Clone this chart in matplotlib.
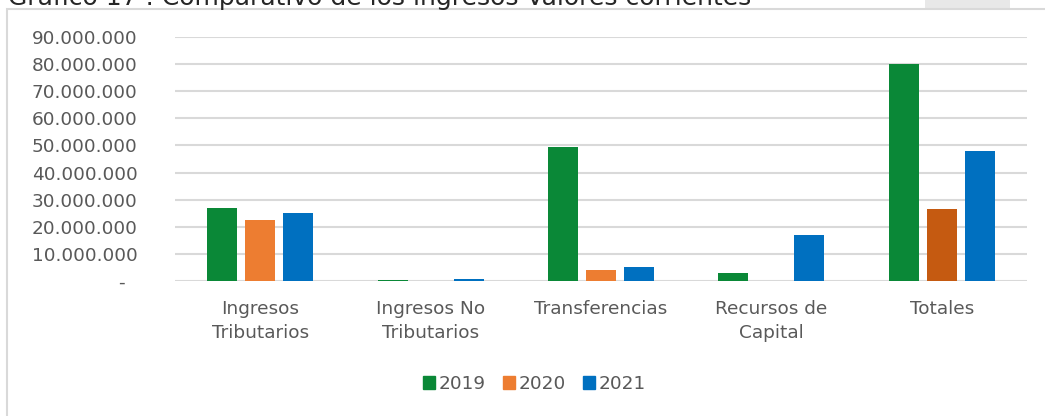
import matplotlib
matplotlib.use("Agg")
import matplotlib.pyplot as plt
import numpy as np
from matplotlib.patches import Rectangle
from matplotlib.transforms import ScaledTranslation

categories = ["Ingresos\nTributarios", "Ingresos No\nTributarios", "Transferencias", "Recursos de\nCapital", "Totales"]
series_names = ["2019", "2020", "2021"]
v2019 = [26.9e6, 0.2e6, 49.5e6, 3.1e6, 80.0e6]
v2020 = [22.5e6, 0.0, 4.2e6, 0.0, 26.7e6]
v2021 = [25.0e6, 0.6e6, 5.3e6, 17.1e6, 47.8e6]
yticks = [0, 10e6, 20e6, 30e6, 40e6, 50e6, 60e6, 70e6, 80e6, 90e6]
ytick_labels = ["-", "10.000.000", "20.000.000", "30.000.000", "40.000.000", "50.000.000",
                "60.000.000", "70.000.000", "80.000.000", "90.000.000"]
title = "Gráfico 17 : Comparativo de los ingresos Valores corrientes"

colors = ["#0A8837", "#ED7D31", "#0070C0"]
totales_2020_color = "#C55A11"
txt = "#595959"
plt.rcParams["font.family"] = ["DejaVu Sans"]

W, H = 1045, 416
fig = plt.figure(figsize=(W / 100, H / 100), dpi=100)
fig.patch.set_facecolor("white")
# faint shadow at top-right
fig.patches.append(Rectangle((925 / W, 1 - 8 / H), 85 / W, 8 / H, transform=fig.transFigure,
                             facecolor="#E8E8E8", edgecolor="none"))
# chart frame
fig.patches.append(Rectangle((7 / W, -0.05), 1.2, 1.05 - 9 / H, transform=fig.transFigure,
                             fill=False, edgecolor="#D9D9D9", linewidth=1.5))
fig.text(8 / W, 1 - 4.5 / H, title, fontsize=18, color="#262626", va="baseline", ha="left")

ax = fig.add_axes([175 / W, 1 - 281 / H, (1027 - 175) / W, (281 - 37) / H])
x = np.arange(len(categories))
w = 0.176
off = 0.223
for i, (vals, name) in enumerate(zip([v2019, v2020, v2021], series_names)):
    cols = [colors[i]] * len(vals)
    if i == 1:
        cols[-1] = totales_2020_color
    ax.bar(x + (i - 1) * off, vals, width=w, color=cols, label=name, zorder=3)

ax.set_xlim(-0.5, len(categories) - 0.5)
ax.set_ylim(0, 90e6)
ax.set_yticks(yticks)
ax.set_yticklabels(ytick_labels)
ax.set_xticks(x)
ax.set_xticklabels(categories)
ax.tick_params(axis="both", length=0, colors=txt, labelsize=13.3)
ax.tick_params(axis="x", pad=13.5)
ax.tick_params(axis="y", pad=27)
for lbl in ax.get_xticklabels():
    lbl.set_linespacing(1.45)
ax.grid(axis="y", color="#D9D9D9", linewidth=1.5, zorder=0)
for s in ax.spines.values():
    s.set_visible(False)

handles = [Rectangle((0, 0), 1, 1, color=c) for c in colors]
fig.legend(handles, series_names, loc="center", bbox_to_anchor=(534.5 / W, 1 - 384 / H),
           ncol=3, frameon=False, fontsize=13.3, labelcolor=txt, handlelength=0.65,
           handleheight=0.65, handletextpad=0.22, columnspacing=0.92,
           borderpad=0, borderaxespad=0)

# Excel accounting format: the zero dash sits a little left of the number column
zero_lbl = ax.get_yticklabels()[0]
zero_lbl.set_transform(zero_lbl.get_transform() + ScaledTranslation(-13 / 100, 0, fig.dpi_scale_trans))

fig.savefig("out.png", dpi=100, facecolor="white")
